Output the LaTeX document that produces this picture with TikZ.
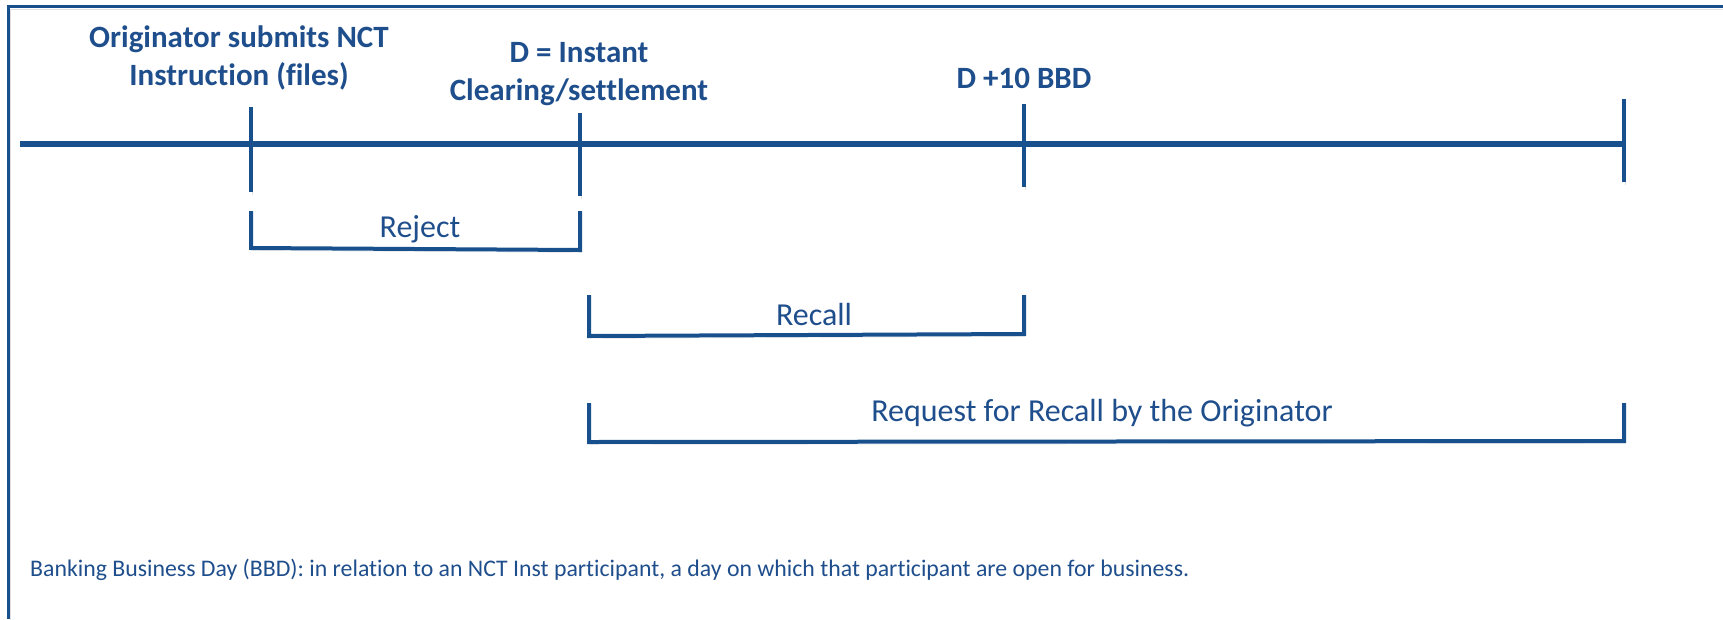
\documentclass[tikz,border=0pt]{standalone}
\usepackage{fontspec}
\setmainfont[Ligatures=NoCommon]{Carlito}
\definecolor{tlblue}{RGB}{24,80,142}
\definecolor{txtblue}{RGB}{31,78,140}
\tikzset{
  x=1pt, y=-1pt,
  shadowed/.style={preaction={draw=black!35, opacity=0.35, transform canvas={shift={(1.5pt,-2.5pt)}}}},
  axis/.style={draw=tlblue, line width=5.5pt, shadowed},
  tick/.style={draw=tlblue, line width=4pt, shadowed},
  bracket/.style={draw=tlblue, line width=4pt, line join=miter, shadowed},
  head/.style={font=\fontsize{31}{38.5}\selectfont\bfseries, text=txtblue, align=center, inner sep=0pt},
  lab/.style={font=\fontsize{32}{38}\selectfont, text=txtblue, inner sep=0pt},
  note/.style={font=\fontsize{23.8}{28}\selectfont, text=txtblue, inner sep=0pt, anchor=west},
  frame/.style={draw=tlblue, line width=2.5pt, shadowed}
}
\begin{document}
\begin{tikzpicture}
\useasboundingbox (0,0) rectangle (1723,619);
% frame
\coordinate (fb) at (8.5,619);
\coordinate (fc) at (8.5,6.5);
\coordinate (fr) at (1723,6.5);
\draw[frame] (fb) -- (fc) -- (fr);
% timeline
\coordinate (L) at (20,144);
\coordinate (T1) at (251,144);
\coordinate (T2) at (580,144);
\coordinate (T3) at (1024,144);
\coordinate (T4) at (1624,144);
\draw[axis] (L) -- (T4);
% ticks
\coordinate (T1a) at (251,107); \coordinate (T1b) at (251,192);
\coordinate (T2a) at (580,113); \coordinate (T2b) at (580,196);
\coordinate (T3a) at (1024,104); \coordinate (T3b) at (1024,187);
\coordinate (T4a) at (1624,99); \coordinate (T4b) at (1624,182);
\draw[tick] (T1a) -- (T1b);
\draw[tick] (T2a) -- (T2b);
\draw[tick] (T3a) -- (T3b);
\draw[tick] (T4a) -- (T4b);
% headings
\node[head] (h1) at (239,58) {Originator submits NCT\\Instruction (files)};
\node[head] (h2) at (579,74) {D = Instant\\Clearing/settlement};
\node[head] (h3) at (1024,78) {D +10 BBD};
% reject bracket
\coordinate (ra) at (251,211); \coordinate (rb) at (251,248);
\coordinate (rc) at (580,250); \coordinate (rd) at (580,211);
\draw[bracket] (ra) -- (rb) -- (rc) -- (rd);
\node[lab] (rej) at (420,229) {Reject};
% recall bracket
\coordinate (ca) at (589,295); \coordinate (cb) at (589,336);
\coordinate (cc) at (1024,334); \coordinate (cd) at (1024,295);
\draw[bracket] (ca) -- (cb) -- (cc) -- (cd);
\node[lab] (rec) at (814,315) {Recall};
% request bracket
\coordinate (qa) at (589,403); \coordinate (qb) at (589,442);
\coordinate (qc) at (1624,441); \coordinate (qd) at (1624,403);
\draw[bracket] (qa) -- (qb) -- (qc) -- (qd);
\node[lab] (req) at (1102,413) {Request for Recall by the Originator};
% note
\node[note] (nt) at (30,570) {Banking Business Day (BBD): in relation to an NCT Inst participant, a day on which that participant are open for business.};
\end{tikzpicture}
\end{document}
